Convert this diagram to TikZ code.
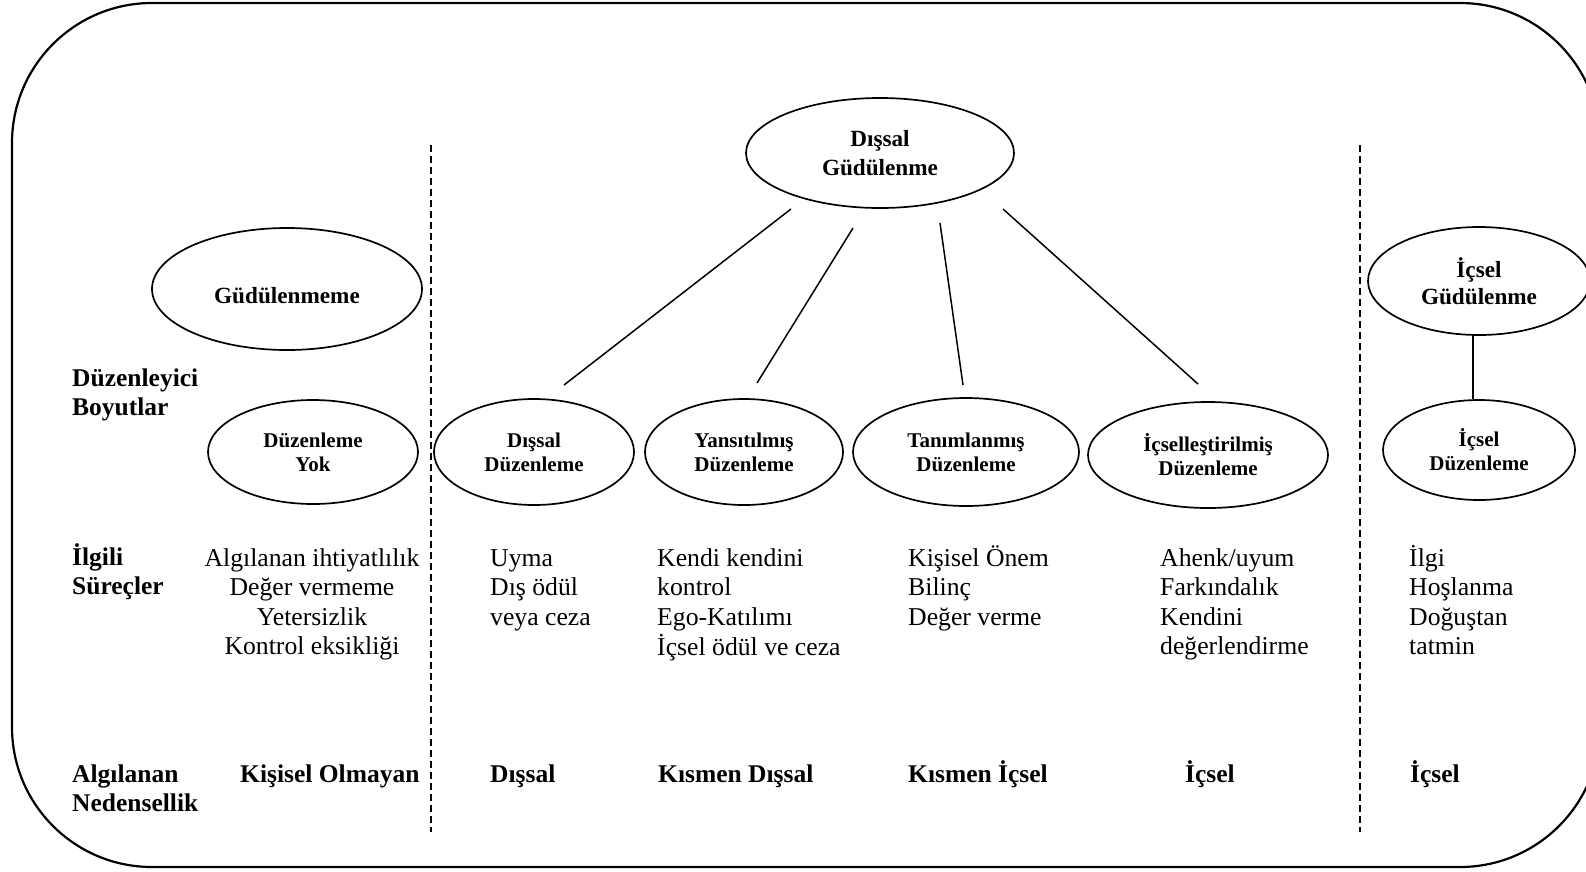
\documentclass[tikz,border=0pt]{standalone}
\usepackage{fontspec}
\setmainfont{Liberation Serif}
\usetikzlibrary{shapes.geometric}
\newcommand\stackLeft[1]{\begin{tabular}[t]{@{}l@{}}#1\end{tabular}}
\newcommand\stackMid[1]{\begin{tabular}[t]{@{}c@{}}#1\end{tabular}}
\begin{document}
\begin{tikzpicture}[x=1pt,y=-1pt,
  frame/.style={line width=2.2pt, rounded corners=140pt},
  oval/.style={draw, ellipse, line width=1.7pt, inner sep=0pt, align=center,
    font=\bfseries\fontsize{21}{24}\selectfont},
  bigoval/.style={oval, font=\bfseries\fontsize{23.2}{28.5}\selectfont},
  conn/.style={line width=1.5pt},
  divider/.style={line width=1.5pt, dash pattern=on 7pt off 4pt},
  lbl/.style={anchor=base west, inner sep=0pt, font=\bfseries\fontsize{25.5}{29}\selectfont},
  txt/.style={anchor=base west, inner sep=0pt, font=\fontsize{25.7}{29.5}\selectfont},
  txtc/.style={txt, anchor=base},
]
\useasboundingbox (0,0) rectangle (1586,871);
\fill[white] (0,0) rectangle (1586,871);

% frame
\draw[frame] (12,3) rectangle (1600,867);

% dividers
\draw[divider] (431,145) -- (431,832);
\draw[divider] (1360,145) -- (1360,832);

% ellipses
\node[bigoval, minimum width=270pt, minimum height=122pt] (gm) at (287,289) {\raisebox{-7pt}[\height][\depth]{Güdülenmeme}};
\node[bigoval, minimum width=268pt, minimum height=110pt] (dg) at (880,153) {Dışsal\\Güdülenme};
\node[bigoval, minimum width=222pt, minimum height=108pt, font=\bfseries\fontsize{23.2}{27}\selectfont] (ig) at (1479,281) {İçsel\\Güdülenme};

\node[oval, minimum width=210pt, minimum height=104pt] (dy) at (313,452) {Düzenleme\\Yok};
\node[oval, minimum width=200pt, minimum height=106pt] (dd) at (534,452) {Dışsal\\Düzenleme};
\node[oval, minimum width=198pt, minimum height=106pt] (yd) at (744,452) {Yansıtılmış\\Düzenleme};
\node[oval, minimum width=226pt, minimum height=108pt] (td) at (966,452) {Tanımlanmış\\Düzenleme};
\node[oval, minimum width=240pt, minimum height=106pt] (id) at (1208,455) {İçselleştirilmiş\\Düzenleme};
\node[oval, minimum width=192pt, minimum height=100pt] (idz) at (1479,450) {İçsel\\Düzenleme};

% connector ends
\coordinate (l1t) at ([shift={(-89,56)}]dg.center);
\coordinate (l2t) at ([shift={(-27,75)}]dg.center);
\coordinate (l3t) at ([shift={(60,70)}]dg.center);
\coordinate (l4t) at ([shift={(123,56)}]dg.center);
\coordinate (l1b) at ([shift={(30,-67)}]dd.center);
\coordinate (l2b) at ([shift={(13,-69)}]yd.center);
\coordinate (l3b) at ([shift={(-3,-67)}]td.center);
\coordinate (l4b) at ([shift={(-10,-71)}]id.center);
\draw[conn] (l1t) -- (l1b);
\draw[conn] (l2t) -- (l2b);
\draw[conn] (l3t) -- (l3b);
\draw[conn] (l4t) -- (l4b);
\draw[conn] ([xshift=-6pt]ig.south) -- ([xshift=-6pt]idz.north);

% row labels
\node[lbl] (rowA) at (72,386) {\stackLeft{Düzenleyici\\Boyutlar}};
\node[lbl] (rowB) at (72,565) {\stackLeft{İlgili\\Süreçler}};
\node[lbl] (rowC) at (72,782) {\stackLeft{Algılanan\\Nedensellik}};

% processes
\node[txtc] (p1) at (312,566) {\stackMid{Algılanan ihtiyatlılık\\Değer vermeme\\Yetersizlik\\Kontrol eksikliği}};
\node[txt] (p2) at (490,566) {\stackLeft{Uyma\\Dış ödül\\veya ceza}};
\node[txt] (p3) at (657,566) {\stackLeft{Kendi kendini\\kontrol\\Ego-Katılımı\\İçsel ödül ve ceza}};
\node[txt] (p4) at (908,566) {\stackLeft{Kişisel Önem\\Bilinç\\Değer verme}};
\node[txt] (p5) at (1160,566) {\stackLeft{Ahenk/uyum\\Farkındalık\\Kendini\\değerlendirme}};
\node[txt] (p6) at (1409,566) {\stackLeft{İlgi\\Hoşlanma\\Doğuştan\\tatmin}};

% causality
\node[lbl] (c1) at (240,782) {Kişisel Olmayan};
\node[lbl] (c2) at (490,782) {Dışsal};
\node[lbl] (c3) at (658,782) {Kısmen Dışsal};
\node[lbl] (c4) at (908,782) {Kısmen İçsel};
\node[lbl] (c5) at (1185,782) {İçsel};
\node[lbl] (c6) at (1410,782) {İçsel};
\end{tikzpicture}
\end{document}
